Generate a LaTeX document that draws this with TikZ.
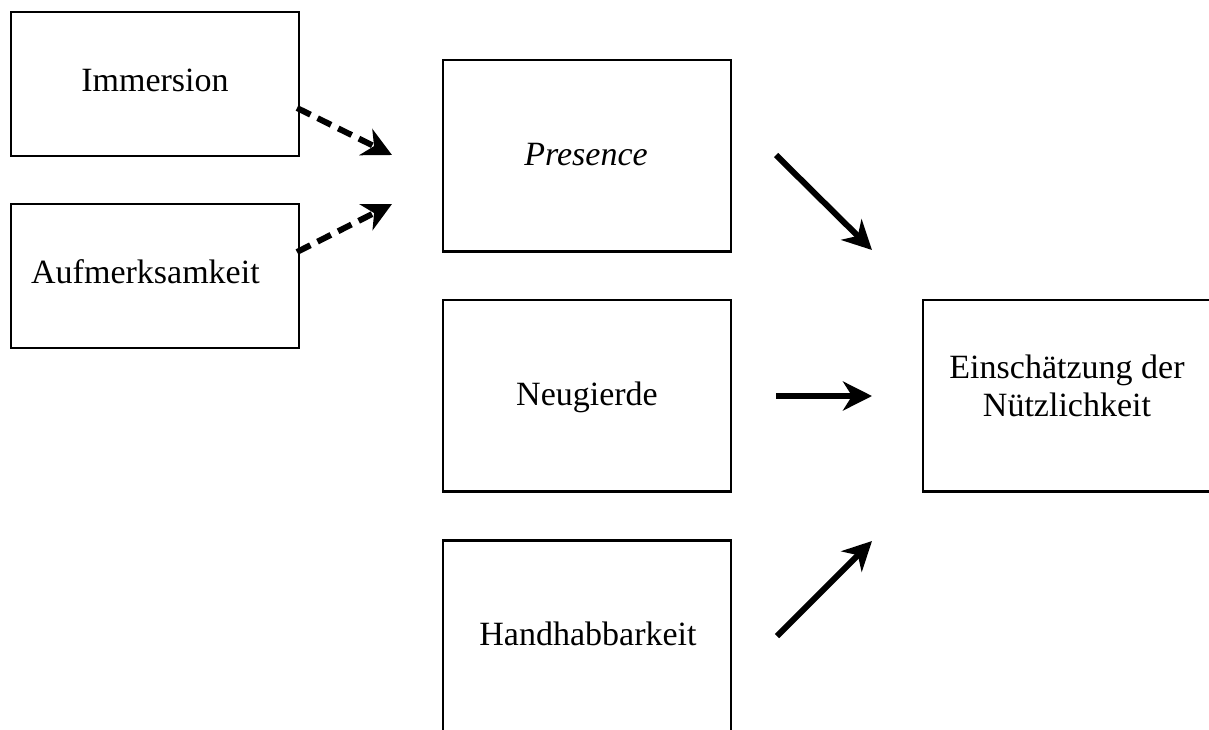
\documentclass[tikz,border=0pt]{standalone}
\usepackage{fontspec}
\setmainfont{Liberation Serif}
\usetikzlibrary{arrows.meta}
\begin{document}
\begin{tikzpicture}[x=1pt,y=-1pt,
  box/.style={draw=black, line width=2.2pt, rectangle, inner sep=0pt, minimum width=288pt},
  shortbox/.style={box, minimum height=144pt},
  tallbox/.style={box, minimum height=191.5pt},
  lbl/.style={inner sep=0pt, font=\fontsize{34}{38}\selectfont},
  link/.style={line width=6pt, -{Stealth[length=29pt, width=29pt, inset=9pt]}},
  dlink/.style={link, dash pattern=on 15pt off 8pt}]
  \useasboundingbox (0,0) rectangle (1209,729);
  \clip (0,0) rectangle (1209,729);

  % boxes
  \node[shortbox] (imm) at (155,84) {};
  \node[shortbox] (auf) at (155,276) {};
  \node[tallbox] (pre) at (587.25,155.75) {};
  \node[tallbox] (neu) at (587.25,395.75) {};
  \node[tallbox] (han) at (587.25,636.25) {};
  \node[tallbox] (ein) at (1067,395.75) {};

  % labels
  \node[lbl, anchor=base] (immT) at (155,91) {Immersion};
  \node[lbl, anchor=base west] (aufT) at (31,283) {Aufmerksamkeit};
  \node[lbl, anchor=base] (preT) at (586,165) {\itshape Presence};
  \node[lbl, anchor=base] (neuT) at (587,405) {Neugierde};
  \node[lbl, anchor=base] (hanT) at (588,645) {Handhabbarkeit};
  \node[lbl, anchor=base] (einT1) at (1067,378) {Einschätzung der};
  \node[lbl, anchor=base] (einT2) at (1067,416) {Nützlichkeit};

  % arrow end points
  \coordinate (a1s) at (297,108);
  \coordinate (a1e) at (392,155);
  \coordinate (a2s) at (297,252);
  \coordinate (a2e) at (392,204);
  \coordinate (b1s) at (776,155);
  \coordinate (b1e) at (872,250);
  \coordinate (b2s) at (776,396);
  \coordinate (b2e) at (872,396);
  \coordinate (b3s) at (777,636);
  \coordinate (b3e) at (872,541);

  % connectors
  \draw[dlink] (a1s) -- (a1e);
  \draw[dlink] (a2s) -- (a2e);
  \draw[link] (b1s) -- (b1e);
  \draw[link] (b2s) -- (b2e);
  \draw[link] (b3s) -- (b3e);
\end{tikzpicture}
\end{document}
